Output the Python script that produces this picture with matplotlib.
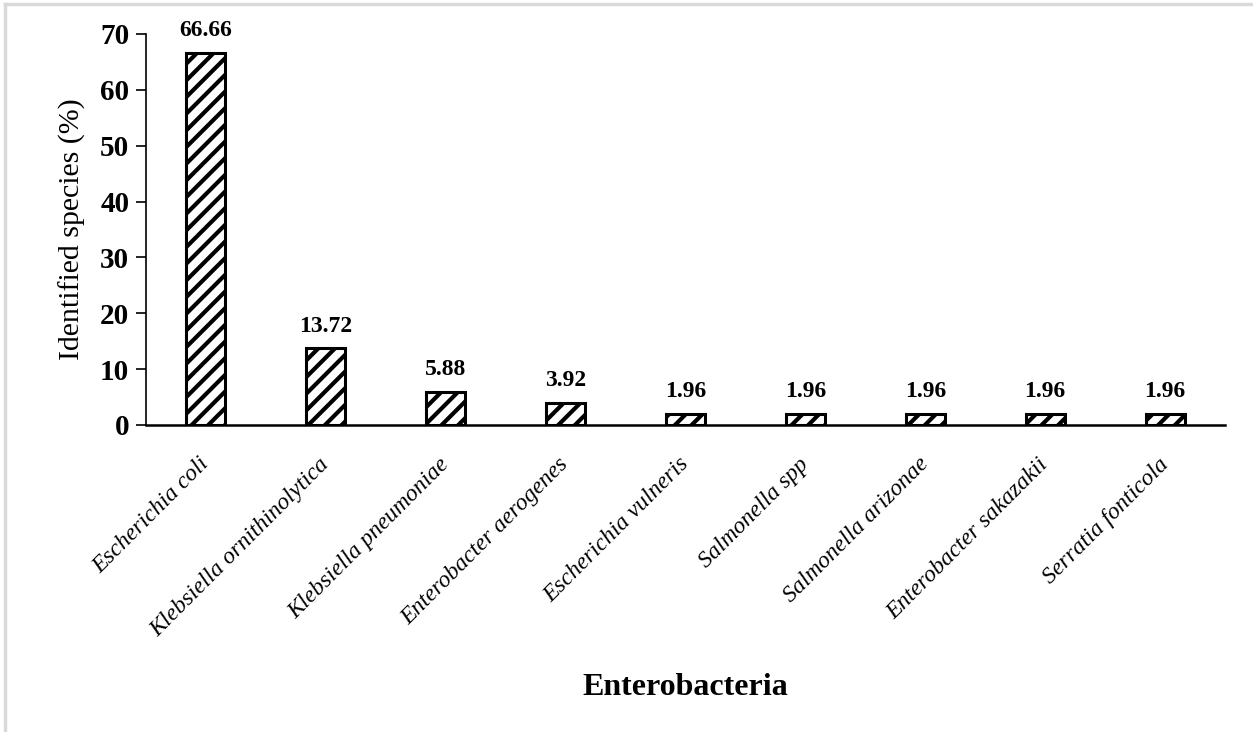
import numpy as np
import matplotlib.pyplot as plt
from matplotlib.lines import Line2D

species = ['Escherichia coli', 'Klebsiella ornithinolytica', 'Klebsiella pneumoniae',
           'Enterobacter aerogenes', 'Escherichia vulneris', 'Salmonella spp',
           'Salmonella arizonae', 'Enterobacter sakazakii', 'Serratia fonticola']
percent = [66.66, 13.72, 5.88, 3.92, 1.96, 1.96, 1.96, 1.96, 1.96]
yticks = [0, 10, 20, 30, 40, 50, 60, 70]

plt.rcParams['font.family'] = ['Liberation Serif', 'DejaVu Serif']
plt.rcParams['hatch.linewidth'] = 3.0

fig = plt.figure(figsize=(12.53, 7.32), dpi=100)
ax = fig.add_axes([0.1165, 0.4194, 0.8612, 0.5342])

x = np.arange(len(species))
bars = ax.bar(x, percent, width=0.325, color='white', edgecolor='black',
              linewidth=2.2, hatch='//')

for xi, v in zip(x, percent):
    ax.annotate(f'{v:.2f}', (xi, v), xytext=(0, 8.5), textcoords='offset points',
                ha='center', va='bottom', fontsize=17, fontweight='bold')

ax.set_xlim(-0.5, len(species) - 0.5)
ax.set_ylim(0, 70)
ax.set_yticks(yticks)
ax.set_yticklabels([str(t) for t in yticks], fontsize=21, fontweight='bold')
ax.set_xticks(x)
ax.set_xticklabels(species, rotation=45, ha='right', va='center',
                   rotation_mode='anchor', fontsize=17, style='italic')
ax.tick_params(axis='x', length=0, pad=26)
ax.tick_params(axis='y', length=7, width=1.2, direction='out', pad=5)

for s in ['top', 'right']:
    ax.spines[s].set_visible(False)
ax.spines['left'].set_linewidth(1.2)
ax.spines['bottom'].set_linewidth(1.8)

ax.set_ylabel('Identified species (%)', fontsize=21.5, labelpad=10)
fig.text(0.547, 0.0505, 'Enterobacteria', ha='center', va='baseline',
         fontsize=23, fontweight='bold')

# light page border seen at top and left of the source image
fig.add_artist(Line2D([0.004, 1.0], [0.994, 0.994], color='#d9d9d9', lw=2.5,
                      transform=fig.transFigure))
fig.add_artist(Line2D([0.004, 0.004], [0.0, 0.994], color='#d9d9d9', lw=2.5,
                      transform=fig.transFigure))

fig.savefig('out.png', dpi=100)
